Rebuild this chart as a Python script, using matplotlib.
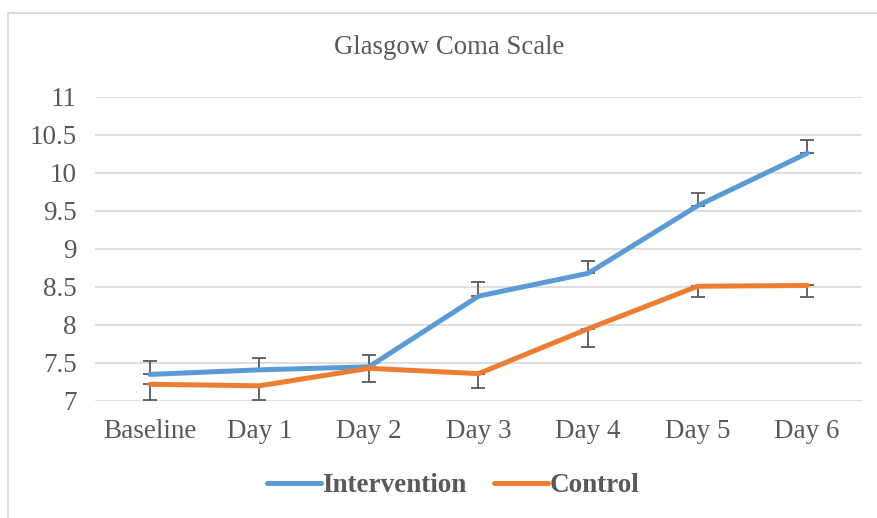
import matplotlib.pyplot as plt
from matplotlib.lines import Line2D

dias = ['Baseline', 'Day 1', 'Day 2', 'Day 3', 'Day 4', 'Day 5', 'Day 6']
intervencion = [7.35, 7.41, 7.45, 8.38, 8.68, 9.57, 10.26]
err_interv = [0.18, 0.16, 0.16, 0.18, 0.16, 0.17, 0.17]
control = [7.22, 7.20, 7.43, 7.36, 7.95, 8.51, 8.52]
err_control = [0.21, 0.19, 0.18, 0.19, 0.24, 0.14, 0.15]

gris = '#595959'
fuente = 'Liberation Serif'
tam = 19.5
plt.rcParams['font.family'] = [fuente, 'DejaVu Serif']

fig = plt.figure(figsize=(8.78, 5.18), dpi=100)
ax = fig.add_axes([95/878, 1-401/518, (862-95)/878, (401-97)/518])

x = list(range(len(dias)))
ax.plot(x, intervencion, color='#5B9BD5', lw=3.6, solid_capstyle='round',
        label='Intervention', zorder=3)
ax.plot(x, control, color='#ED7D31', lw=3.6, solid_capstyle='round',
        label='Control', zorder=3)
# barras de error de un solo lado
ax.errorbar(x, intervencion, yerr=[[0]*7, err_interv], fmt='none',
            ecolor=gris, elinewidth=1.3, capsize=5, capthick=1.3, zorder=2)
ax.errorbar(x, control, yerr=[err_control, [0]*7], fmt='none',
            ecolor=gris, elinewidth=1.3, capsize=5, capthick=1.3, zorder=2)

ax.set_xlim(-0.5, 6.5)
ax.set_ylim(7, 11)
ax.set_yticks([7, 7.5, 8, 8.5, 9, 9.5, 10, 10.5, 11])
ax.set_yticklabels(['7', '7.5', '8', '8.5', '9', '9.5', '10', '10.5', '11'])
ax.set_xticks(x)
ax.set_xticklabels(dias)
ax.grid(axis='y', color='#D9D9D9', lw=1.2)
ax.set_axisbelow(True)
for s in ax.spines.values():
    s.set_visible(False)
ax.tick_params(axis='both', length=0, labelsize=tam, labelcolor=gris)
ax.tick_params(axis='y', pad=13)
ax.tick_params(axis='x', pad=13)

fig.text(449/878, 1-48/518, 'Glasgow Coma Scale', ha='center', va='center',
         fontsize=19.3, color=gris)

leg = fig.legend(loc='center', bbox_to_anchor=(453/878, 1-486/518), ncol=2,
                 frameon=False, handlelength=2.0, handletextpad=0.05,
                 columnspacing=1.0, prop={'family': fuente, 'size': tam,
                                          'weight': 'bold'})
for t in leg.get_texts():
    t.set_color(gris)

# borde del grafico: solo arriba y a la izquierda
fig.lines.append(Line2D([8/878, 1], [1-13/518, 1-13/518],
                        transform=fig.transFigure, color='#D9D9D9', lw=1.3))
fig.lines.append(Line2D([8/878, 8/878], [0, 1-13/518],
                        transform=fig.transFigure, color='#D9D9D9', lw=1.3))

plt.savefig('out.png', dpi=100)
